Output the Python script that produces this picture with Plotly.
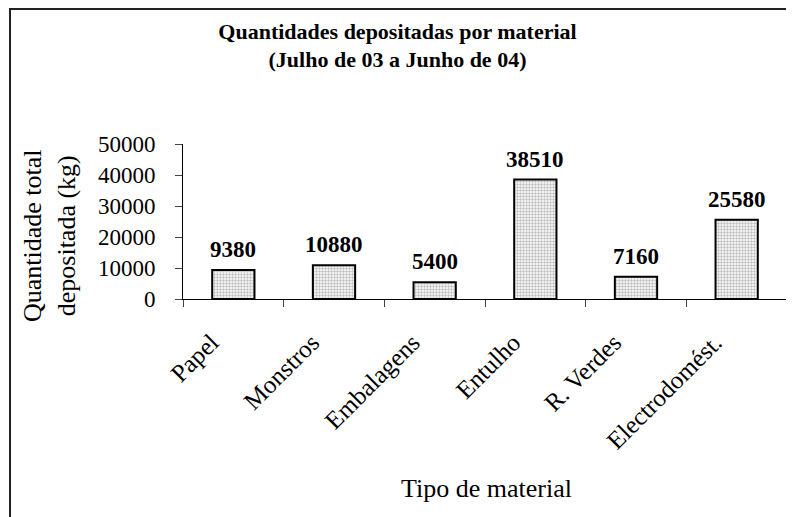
import plotly.graph_objects as go

materiais = ["Papel", "Monstros", "Embalagens", "Entulho", "R. Verdes", "Electrodomést."]
quantidades = [9380, 10880, 5400, 38510, 7160, 25580]
y_ticks = [0, 10000, 20000, 30000, 40000, 50000]

serif = "Liberation Serif, Times New Roman, serif"

# plot area in figure pixels
L, R, T, B = 175, 779, 136, 291
W, H = 794, 517
pw, ph = R - L, B - T


def px(x):
    return (x - L) / pw


def py(y):
    return (B - y) / ph


fig = go.Figure()
fig.add_trace(go.Bar(
    x=materiais,
    y=quantidades,
    width=0.42,
    marker=dict(
        color="white",
        line=dict(color="black", width=2),
        pattern=dict(shape=".", fgcolor="#808080", bgcolor="white", size=3, solidity=0.5),
    ),
    cliponaxis=False,
))

# value labels above bars
for m, q in zip(materiais, quantidades):
    fig.add_annotation(
        x=m, y=q, text=f"<b>{q}</b>", showarrow=False,
        yanchor="bottom", yshift=6,
        font=dict(family=serif, size=23, color="black"),
    )

# outer frame around the whole chart
fig.add_shape(
    type="rect", xref="paper", yref="paper",
    x0=px(2), x1=px(792), y0=py(515), y1=py(1),
    line=dict(color="#222222", width=2),
)

# axis titles
fig.add_annotation(
    xref="paper", yref="paper", x=px(41), y=py(228),
    text="Quantidade total<br>depositada (kg)", textangle=-90,
    showarrow=False, xanchor="center", yanchor="middle",
    font=dict(family=serif, size=26, color="black"),
)
fig.add_annotation(
    xref="paper", yref="paper", x=px(478), y=py(480),
    text="Tipo de material",
    showarrow=False, xanchor="center", yanchor="middle",
    font=dict(family=serif, size=26, color="black"),
)

fig.update_layout(
    width=W, height=H,
    margin=dict(l=L, r=W - R, t=T, b=H - B, autoexpand=False),
    paper_bgcolor="white", plot_bgcolor="white",
    showlegend=False,
    font=dict(family=serif, color="black"),
    title=dict(
        text="<b>Quantidades depositadas por material<br>(Julho de 03 a Junho de 04)</b>",
        x=389.5 / W, xanchor="center", y=1 - 30.5 / H, yanchor="middle",
        font=dict(family=serif, size=22, color="black"),
    ),
    xaxis=dict(
        tickangle=-45,
        tickfont=dict(family=serif, size=25),
        ticks="outside", tickson="boundaries", ticklen=7,
        ticklabelstandoff=18, ticklabelshift=-22,
        showline=True, linecolor="black", linewidth=1,
        automargin=False,
    ),
    yaxis=dict(
        range=[0, 50000],
        tickvals=y_ticks,
        ticktext=[str(v) for v in y_ticks],
        tickfont=dict(family=serif, size=23),
        ticks="outside", ticklen=7,
        ticklabelstandoff=15,
        showline=True, linecolor="black", linewidth=1,
        showgrid=False, zeroline=False,
        automargin=False,
    ),
)

fig.write_html("out.html")
